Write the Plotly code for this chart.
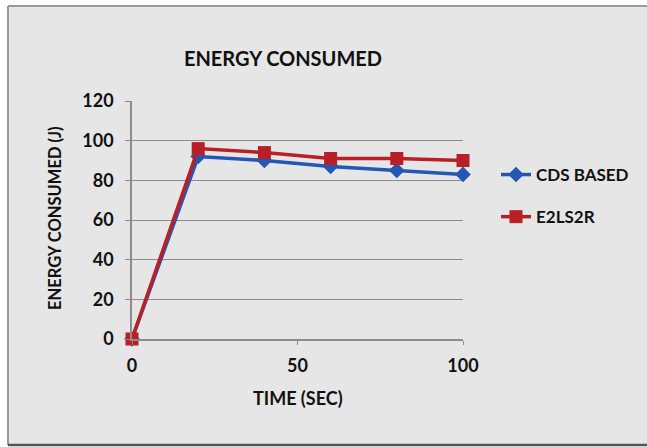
import plotly.graph_objects as go

time_sec = [0, 20, 40, 60, 80, 100]
cds_based = [0, 92, 90, 87, 85, 83]
e2ls2r = [0, 96, 94, 91, 91, 90]

FONT = "Lato"
TXT = "#111111"

# plot area in pixels
L, R, T, B = 132, 184, 101, 108
W, H = 647, 447
PW, PH = W - L - R, H - T - B


def px_x(px):
    return (px - L) / PW


def px_y(py):
    return (H - B - py) / PH


fig = go.Figure()
fig.add_trace(go.Scatter(
    x=time_sec, y=cds_based, name="<b>CDS BASED</b>", legendgroup="a",
    mode="lines+markers", cliponaxis=False,
    line=dict(color="#2456b4", width=3.5),
    marker=dict(symbol="diamond", size=12, color="#2456b4"),
))
fig.add_trace(go.Scatter(
    x=time_sec, y=e2ls2r, name="<b>E2LS2R</b>", legendgroup="b",
    mode="lines+markers", cliponaxis=False,
    line=dict(color="#b82025", width=3.5),
    marker=dict(symbol="square", size=13, color="#b82025"),
))

shapes = [
    dict(type="rect", xref="paper", yref="paper", layer="below",
         x0=px_x(8), x1=px_x(660), y0=px_y(445), y1=px_y(6),
         fillcolor="#e6e6e6", line=dict(width=0)),
    dict(type="line", xref="paper", yref="paper", layer="below",
         x0=px_x(8), x1=px_x(660), y0=px_y(6), y1=px_y(6),
         line=dict(color="#9a9a9a", width=2)),
    dict(type="line", xref="paper", yref="paper", layer="below",
         x0=px_x(8), x1=px_x(8), y0=px_y(445), y1=px_y(6),
         line=dict(color="#9a9a9a", width=2)),
    dict(type="line", xref="paper", yref="paper", layer="below",
         x0=px_x(8), x1=px_x(660), y0=px_y(445), y1=px_y(445),
         line=dict(color="#555555", width=2.5)),
]

annotations = [
    dict(text="<b>ENERGY CONSUMED (J)</b>", xref="paper", yref="paper",
         x=px_x(55), y=px_y(218), xanchor="center", yanchor="middle",
         textangle=-90, showarrow=False,
         font=dict(family=FONT, size=16.5, color=TXT)),
    dict(text="<b>TIME (SEC)</b>", xref="paper", yref="paper",
         x=px_x(298), y=px_y(398), xanchor="center", yanchor="middle",
         showarrow=False,
         font=dict(family=FONT, size=18, color=TXT)),
]

fig.update_layout(
    width=W, height=H,
    margin=dict(l=L, r=R, t=T, b=B),
    paper_bgcolor="white",
    plot_bgcolor="rgba(0,0,0,0)",
    font=dict(family=FONT, color=TXT),
    title=dict(text="<b>ENERGY CONSUMED</b>", xref="container", yref="container",
               x=283 / W, y=1 - 59 / H, xanchor="center", yanchor="middle",
               font=dict(family=FONT, size=20, color=TXT)),
    shapes=shapes,
    annotations=annotations,
    legend=dict(x=px_x(496), y=px_y(157), xanchor="left", yanchor="top",
                bgcolor="rgba(0,0,0,0)", traceorder="grouped",
                tracegroupgap=17,
                font=dict(family=FONT, size=17, color=TXT)),
    showlegend=True,
)

fig.update_xaxes(
    range=[0, 100], tickvals=[0, 50, 100], ticktext=["<b>0</b>", "<b>50</b>", "<b>100</b>"],
    showgrid=False, zeroline=False, showline=True, linecolor="#8c8c8c", linewidth=1.5,
    ticks="outside", ticklen=4, tickcolor="#8c8c8c",
    ticklabelstandoff=6,
    tickfont=dict(family=FONT, size=18, color=TXT),
)
fig.update_yaxes(
    range=[0, 120], tickvals=[0, 20, 40, 60, 80, 100, 120],
    ticktext=["<b>%d</b>" % v for v in [0, 20, 40, 60, 80, 100, 120]],
    showgrid=True, gridcolor="#8c8c8c", gridwidth=1,
    zeroline=False, showline=True, linecolor="#8c8c8c", linewidth=1.5,
    ticks="outside", ticklen=5, tickcolor="#8c8c8c",
    ticklabelstandoff=8,
    tickfont=dict(family=FONT, size=18, color=TXT),
)

fig.write_html("out.html")
